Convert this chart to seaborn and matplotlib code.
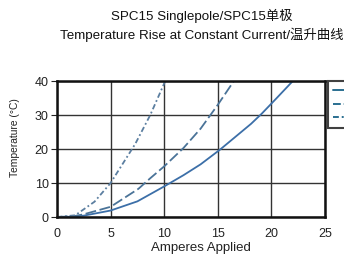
import matplotlib
matplotlib.use("Agg")
import matplotlib.pyplot as plt
import matplotlib.lines as mlines
import seaborn as sns
import pandas as pd

sns.set_theme(style="white")
plt.rcParams['font.family'] = ['Liberation Sans', 'Noto Sans CJK SC', 'DejaVu Sans']

solid_x = [0, 1.5, 2.5, 5, 7.5, 10, 11.8, 13.4, 15.2, 18.1, 19.1, 20.5, 22.0]
solid_y = [0, 0.1, 0.4, 1.9, 4.6, 9.0, 12.3, 15.5, 19.8, 27.4, 30.4, 35.0, 40.0]
dashed_x = [0, 1.5, 2.5, 5, 7.6, 8.7, 10, 11.8, 13.4, 15, 16.5]
dashed_y = [0, 0.2, 0.8, 3.0, 8.3, 11.4, 14.9, 20.3, 26.0, 33.0, 40.0]
dashdot_x = [0, 1.7, 3.5, 5, 7.3, 8.7, 10.1]
dashdot_y = [0, 0.5, 4.5, 10.0, 21.5, 30.0, 40.0]

x_ticks = [0, 5, 10, 15, 20, 25]
y_ticks = [0, 10, 20, 30, 40]

fig = plt.figure(figsize=(3.44, 2.54), dpi=100)
L, R, T, B = 57, 325, 81, 217
ax = fig.add_axes([L/344, 1-B/254, (R-L)/344, (B-T)/254])

series = [
    (solid_x, solid_y, '#3c6fa8', None),
    (dashed_x, dashed_y, '#4a7398', (6, 2)),
    (dashdot_x, dashdot_y, '#5b7ea0', (3, 1.5, 1, 1.5)),
]
for xs, ys, col, dash in series:
    df = pd.DataFrame({'x': xs, 'y': ys})
    sns.lineplot(data=df, x='x', y='y', ax=ax, color=col, linewidth=1.3,
                 estimator=None, sort=True)
    line = ax.lines[-1]
    line.set_solid_joinstyle('round')
    line.set_dash_joinstyle('round')
    if dash is not None:
        line.set_dashes(dash)

ax.set_xlim(0, 25)
ax.set_ylim(0, 40)
ax.set_xticks(x_ticks)
ax.set_yticks(y_ticks)
ax.grid(True, color='#333333', linewidth=1.0)
for s in ax.spines.values():
    s.set_color('#111111')
    s.set_linewidth(1.8)
ax.tick_params(axis='both', labelsize=9, colors='#222222', length=4, width=0.8,
               left=True, bottom=False)
ax.tick_params(axis='x', pad=4)
ax.tick_params(axis='y', pad=2)
ax.set_xlabel('Amperes Applied', fontsize=9.5, color='#222222')
ax.xaxis.set_label_coords((201 - L) / (R - L), -(247.5 - B) / (B - T))
ax.xaxis.label.set_va('center')
ax.set_ylabel('Temperature (°C)', fontsize=7.4, color='#222222')
ax.yaxis.set_label_coords((15 - L) / (R - L), (B - 138) / (B - T))
ax.yaxis.label.set_va('center')

leg_handles = [
    mlines.Line2D([], [], color='#2a6f90', linewidth=1.4),
    mlines.Line2D([], [], color='#2a6f90', linewidth=1.4, dashes=(4, 1.5)),
    mlines.Line2D([], [], color='#2a6f90', linewidth=1.4, dashes=(3, 1.5, 1, 1.5)),
]
leg = ax.legend(leg_handles, [' ', ' ', ' '], loc='upper left',
                bbox_to_anchor=(1.01, 1.0), frameon=True, fontsize=7,
                handlelength=3.5, borderpad=0.5, labelspacing=0.35,
                fancybox=False, borderaxespad=0)
leg.get_frame().set_edgecolor('#111111')
leg.get_frame().set_linewidth(1.5)

fig.text(202/344, 1-16/254, 'SPC15 Singlepole/SPC15单极', ha='center', va='center',
         fontsize=9.6, color='#111111')
fig.text(202/344, 1-35/254, 'Temperature Rise at Constant Current/温升曲线', ha='center',
         va='center', fontsize=9.6, color='#111111')

fig.savefig('out.png', dpi=100)
